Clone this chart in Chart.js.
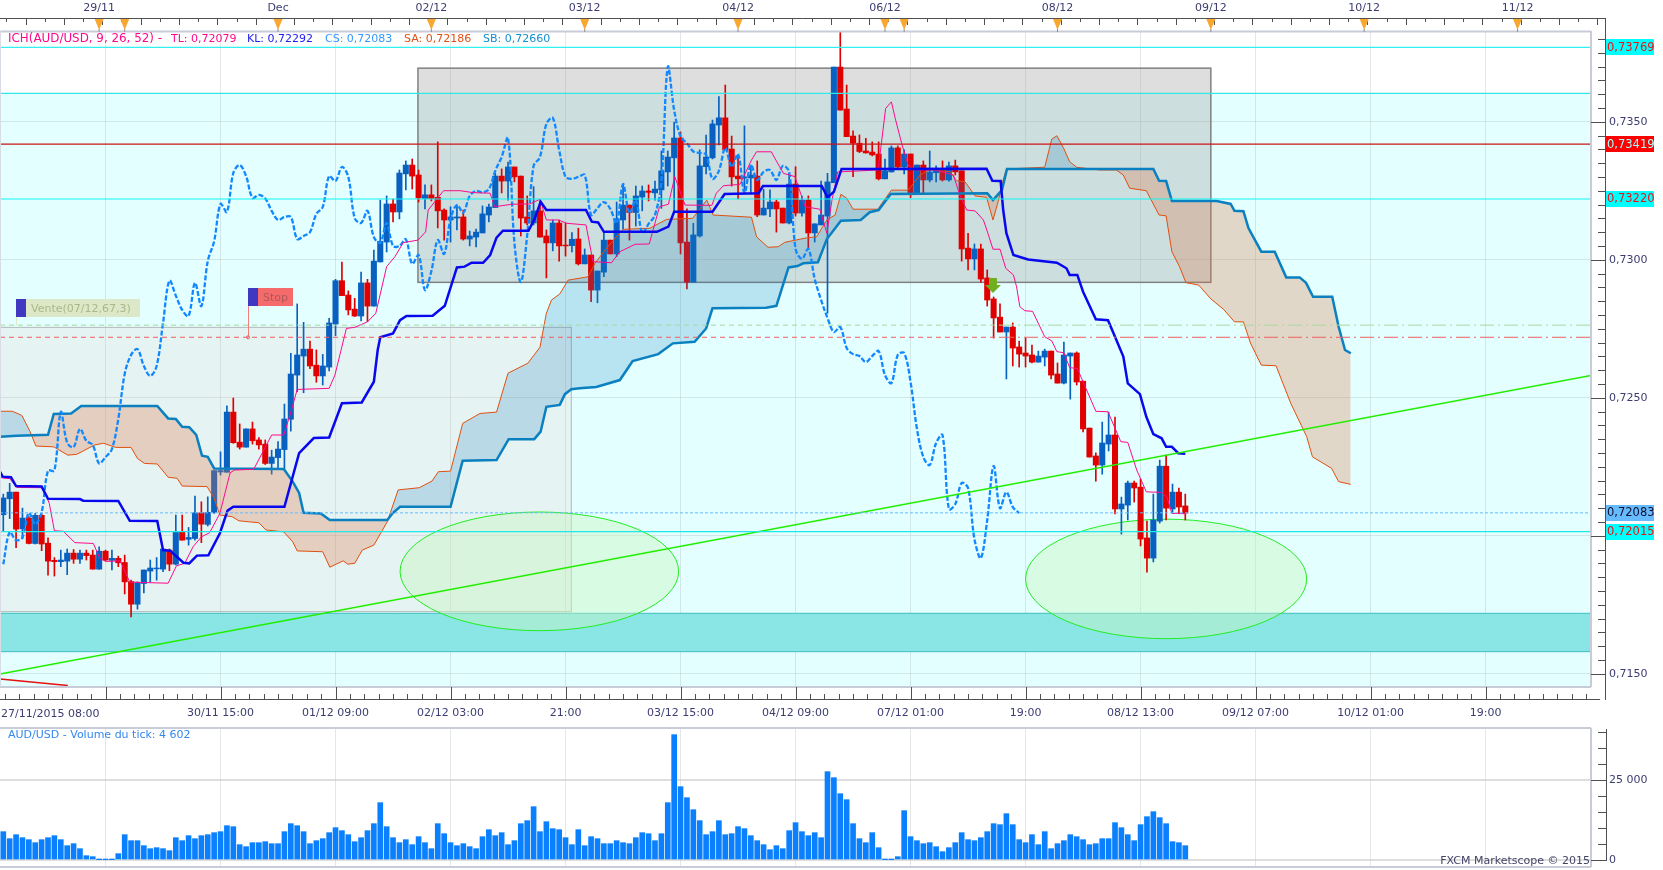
<!DOCTYPE html>
<html>
<head>
<meta charset="utf-8">
<title>AUD/USD</title>
<script src="https://cdn.jsdelivr.net/npm/chart.js@4/dist/chart.umd.js"></script>
<style>
html,body{margin:0;padding:0;background:#fff;overflow:hidden}
canvas{position:absolute;left:0}
#prix{top:0}
#volume{top:727px}
</style>
</head>
<body>
<canvas id="prix" width="1663" height="727"></canvas>
<canvas id="volume" width="1663" height="143"></canvas>
<script>
// bougies H1, une valeur par heure
const opens = [0.72076,0.72134,0.72158,0.72025,0.72064,0.71972,0.72074,0.71973,0.71911,0.71906,0.71908,0.71937,0.71915,0.71937,0.71930,0.71879,0.71944,0.71911,0.71918,0.71903,0.71834,0.71752,0.71827,0.71872,0.71880,0.71879,0.71948,0.71897,0.72013,0.71987,0.71990,0.72083,0.72041,0.72085,0.72231,0.72230,0.72448,0.72339,0.72321,0.72387,0.72347,0.72332,0.72262,0.72283,0.72312,0.72422,0.72582,0.72651,0.72676,0.72618,0.72579,0.72611,0.72767,0.72924,0.72872,0.72821,0.72796,0.72916,0.72832,0.72992,0.73064,0.73202,0.73173,0.73311,0.73343,0.73307,0.73222,0.73235,0.73226,0.73180,0.73144,0.73151,0.73155,0.73075,0.73082,0.73097,0.73162,0.73189,0.73303,0.73285,0.73336,0.73303,0.73155,0.73133,0.73177,0.73086,0.73061,0.73133,0.73053,0.73051,0.73075,0.72985,0.73017,0.72890,0.72955,0.73071,0.73021,0.73144,0.73198,0.73171,0.73227,0.73249,0.73242,0.73253,0.73318,0.73369,0.73441,0.73064,0.72919,0.73086,0.73337,0.73369,0.73488,0.73514,0.73401,0.73303,0.73296,0.73296,0.73303,0.73162,0.73184,0.73209,0.73187,0.73133,0.73274,0.73169,0.73216,0.73097,0.73126,0.73158,0.73279,0.73698,0.73546,0.73448,0.73422,0.73394,0.73390,0.73383,0.73293,0.73318,0.73405,0.73336,0.73383,0.73242,0.73343,0.73289,0.73315,0.73325,0.73289,0.73340,0.73322,0.73042,0.73003,0.73039,0.72934,0.72858,0.72792,0.72738,0.72756,0.72684,0.72662,0.72655,0.72629,0.72647,0.72669,0.72586,0.72553,0.72651,0.72662,0.72560,0.72390,0.72289,0.72256,0.72332,0.72365,0.72097,0.72111,0.72191,0.72176,0.71992,0.71919,0.72053,0.72252,0.72097,0.72158,0.72108];
const highs = [0.72151,0.72190,0.72158,0.72100,0.72069,0.72081,0.72079,0.71992,0.71921,0.71948,0.71952,0.71950,0.71948,0.71948,0.71948,0.71960,0.71948,0.71948,0.71926,0.71930,0.71839,0.71833,0.71876,0.71912,0.71921,0.71952,0.71952,0.72075,0.72075,0.72030,0.72144,0.72123,0.72141,0.72236,0.72304,0.72471,0.72499,0.72405,0.72387,0.72412,0.72356,0.72347,0.72310,0.72341,0.72477,0.72661,0.72840,0.72773,0.72705,0.72673,0.72657,0.72788,0.72929,0.72991,0.72887,0.72860,0.72955,0.72929,0.73035,0.73216,0.73231,0.73220,0.73325,0.73358,0.73365,0.73325,0.73271,0.73271,0.73427,0.73184,0.73192,0.73198,0.73180,0.73104,0.73111,0.73195,0.73202,0.73313,0.73329,0.73354,0.73336,0.73303,0.73231,0.73265,0.73213,0.73108,0.73144,0.73144,0.73133,0.73098,0.73114,0.73039,0.73017,0.72959,0.73096,0.73071,0.73209,0.73274,0.73198,0.73267,0.73267,0.73271,0.73285,0.73394,0.73394,0.73499,0.73463,0.73184,0.73132,0.73398,0.73452,0.73506,0.73591,0.73633,0.73448,0.73380,0.73485,0.73343,0.73358,0.73255,0.73253,0.73216,0.73187,0.73313,0.73337,0.73231,0.73231,0.73130,0.73285,0.73313,0.73698,0.73829,0.73633,0.73467,0.73452,0.73440,0.73427,0.73427,0.73365,0.73412,0.73412,0.73398,0.73383,0.73343,0.73358,0.73394,0.73340,0.73358,0.73354,0.73361,0.73322,0.73096,0.73057,0.73057,0.72963,0.72865,0.72840,0.72756,0.72771,0.72705,0.72716,0.72691,0.72669,0.72676,0.72669,0.72626,0.72702,0.72662,0.72666,0.72560,0.72390,0.72300,0.72412,0.72448,0.72430,0.72140,0.72198,0.72198,0.72205,0.72053,0.72151,0.72274,0.72292,0.72187,0.72173,0.72151];
const lows = [0.72018,0.72062,0.71957,0.71990,0.71970,0.71970,0.71946,0.71857,0.71854,0.71888,0.71859,0.71900,0.71900,0.71912,0.71879,0.71879,0.71908,0.71876,0.71888,0.71789,0.71706,0.71734,0.71793,0.71833,0.71839,0.71870,0.71873,0.71894,0.71984,0.71966,0.71984,0.71975,0.72035,0.72081,0.72220,0.72230,0.72335,0.72314,0.72321,0.72332,0.72314,0.72258,0.72223,0.72244,0.72236,0.72379,0.72522,0.72518,0.72605,0.72556,0.72546,0.72597,0.72725,0.72870,0.72800,0.72794,0.72778,0.72776,0.72832,0.72992,0.73028,0.73137,0.73148,0.73253,0.73256,0.73209,0.73184,0.73213,0.73115,0.73071,0.73064,0.73108,0.73071,0.73050,0.73046,0.73097,0.73137,0.73189,0.73242,0.73216,0.73282,0.73086,0.73126,0.73126,0.73082,0.72934,0.73032,0.72995,0.73013,0.73028,0.72981,0.72985,0.72848,0.72844,0.72939,0.73021,0.73011,0.73111,0.73071,0.73122,0.73177,0.73213,0.73216,0.73186,0.73267,0.73174,0.73021,0.72894,0.72919,0.73082,0.73311,0.73365,0.73416,0.73398,0.73267,0.73220,0.73241,0.73238,0.73156,0.73162,0.73156,0.73100,0.73133,0.73130,0.73158,0.73158,0.73039,0.73064,0.73126,0.72806,0.73279,0.73542,0.73446,0.73301,0.73388,0.73386,0.73376,0.73289,0.73293,0.73318,0.73332,0.73311,0.73225,0.73242,0.73242,0.73282,0.73282,0.73285,0.73285,0.73307,0.72995,0.72963,0.72963,0.72919,0.72832,0.72716,0.72738,0.72568,0.72615,0.72611,0.72611,0.72626,0.72629,0.72615,0.72568,0.72553,0.72550,0.72495,0.72546,0.72376,0.72285,0.72198,0.72223,0.72307,0.72079,0.72006,0.72057,0.72122,0.71963,0.71868,0.71905,0.72046,0.72057,0.72082,0.72082,0.72057];
const closes = [0.72137,0.72158,0.72024,0.72064,0.71972,0.72074,0.71970,0.71908,0.71906,0.71912,0.71937,0.71915,0.71937,0.71928,0.71879,0.71944,0.71912,0.71918,0.71902,0.71833,0.71752,0.71830,0.71876,0.71883,0.71883,0.71952,0.71897,0.72013,0.71984,0.71994,0.72083,0.72042,0.72085,0.72236,0.72236,0.72448,0.72337,0.72321,0.72387,0.72344,0.72329,0.72262,0.72285,0.72314,0.72423,0.72586,0.72655,0.72676,0.72615,0.72579,0.72615,0.72771,0.72924,0.72870,0.72818,0.72796,0.72916,0.72832,0.72995,0.73067,0.73202,0.73173,0.73314,0.73343,0.73303,0.73224,0.73235,0.73222,0.73177,0.73144,0.73155,0.73155,0.73075,0.73086,0.73100,0.73166,0.73191,0.73303,0.73285,0.73336,0.73300,0.73151,0.73133,0.73177,0.73082,0.73061,0.73133,0.73050,0.73050,0.73074,0.72985,0.73017,0.72890,0.72959,0.73071,0.73021,0.73148,0.73198,0.73171,0.73231,0.73249,0.73244,0.73256,0.73322,0.73372,0.73441,0.73061,0.72919,0.73090,0.73340,0.73372,0.73492,0.73514,0.73398,0.73300,0.73293,0.73300,0.73307,0.73162,0.73187,0.73209,0.73184,0.73133,0.73274,0.73169,0.73216,0.73097,0.73130,0.73162,0.73282,0.73698,0.73542,0.73446,0.73422,0.73392,0.73387,0.73380,0.73293,0.73322,0.73405,0.73336,0.73383,0.73242,0.73343,0.73289,0.73318,0.73325,0.73289,0.73340,0.73318,0.73039,0.73003,0.73039,0.72930,0.72854,0.72789,0.72738,0.72756,0.72680,0.72658,0.72651,0.72629,0.72651,0.72669,0.72582,0.72553,0.72655,0.72662,0.72557,0.72387,0.72285,0.72256,0.72336,0.72365,0.72097,0.72115,0.72191,0.72173,0.71988,0.71919,0.72057,0.72252,0.72100,0.72158,0.72104,0.72082];

// chikou : une valeur par heure a partir de la premiere bougie
const chikou = [0.71897,0.72013,0.71984,0.71994,0.72083,0.72042,0.72085,0.72236,0.72236,0.72448,0.72337,0.72321,0.72387,0.72344,0.72329,0.72262,0.72285,0.72314,0.72423,0.72586,0.72655,0.72676,0.72615,0.72579,0.72615,0.72771,0.72924,0.72870,0.72818,0.72796,0.72916,0.72832,0.72995,0.73067,0.73202,0.73173,0.73314,0.73343,0.73303,0.73224,0.73235,0.73222,0.73177,0.73144,0.73155,0.73155,0.73075,0.73086,0.73100,0.73166,0.73191,0.73303,0.73285,0.73336,0.73300,0.73151,0.73133,0.73177,0.73082,0.73061,0.73133,0.73050,0.73050,0.73074,0.72985,0.73017,0.72890,0.72959,0.73071,0.73021,0.73148,0.73198,0.73171,0.73231,0.73249,0.73244,0.73256,0.73322,0.73372,0.73441,0.73061,0.72919,0.73090,0.73340,0.73372,0.73492,0.73514,0.73398,0.73300,0.73293,0.73300,0.73307,0.73162,0.73187,0.73209,0.73184,0.73133,0.73274,0.73169,0.73216,0.73097,0.73130,0.73162,0.73282,0.73698,0.73542,0.73446,0.73422,0.73392,0.73387,0.73380,0.73293,0.73322,0.73405,0.73336,0.73383,0.73242,0.73343,0.73289,0.73318,0.73325,0.73289,0.73340,0.73318,0.73039,0.73003,0.73039,0.72930,0.72854,0.72789,0.72738,0.72756,0.72680,0.72658,0.72651,0.72629,0.72651,0.72669,0.72582,0.72553,0.72655,0.72662,0.72557,0.72387,0.72285,0.72256,0.72336,0.72365,0.72097,0.72115,0.72191,0.72173,0.71988,0.71919,0.72057,0.72252,0.72100,0.72158,0.72104,0.72082];

// ichimoku : sommets (heure, prix)
const tenkanH = [-0.5,-0.1,1,2.1,6.2,7.2,8,9.4,11.2,14.1,15.1,16.1,18.3,19.8,25.8,27.1,28.4,29.7,31,32.3,33.9,35.5,36.2,39.2,42,43.9,45.1,46,51,51.9,53.7,55,57,58.3,60,61.3,62.6,64.9,66.1,66.5,68.9,71.5,73.6,76.2,76.9,79.6,82.4,84,85,86.9,88.2,91.2,92.3,95.2,96.5,98.9,101.1,102.7,104.1,105.1,106.7,110.9,111.6,112.7,115.3,117.1,117.9,120.2,121.5,122.1,123.9,125.5,127.8,128.9,129.7,130.6,136.9,137.5,138.1,139,139.6,140.6,141.6,142.7,145.8,148.7,149.8,150.8,152.1,153.4,154.1,154.9,156,156.9,158.1,158.6,159.1,159.9,161.1,163,164.1,164.9,166,166.9,168.1,171,172.9,174.9,176,177.4,178.9,181.3,182.1,182.9,185];
const tenkanP = [0.72214,0.72209,0.72207,0.72175,0.72174,0.72117,0.72018,0.72016,0.71975,0.71972,0.71918,0.71907,0.71909,0.71832,0.71828,0.71891,0.71900,0.71960,0.71996,0.72011,0.72081,0.72228,0.72238,0.72241,0.72365,0.72365,0.72455,0.72530,0.72534,0.72582,0.72751,0.72755,0.72775,0.72806,0.72975,0.73011,0.73062,0.73071,0.73101,0.73180,0.73250,0.73250,0.73243,0.73241,0.73192,0.73201,0.73202,0.73219,0.73144,0.73144,0.73132,0.73126,0.72993,0.72989,0.73029,0.73056,0.73057,0.73192,0.73201,0.73301,0.73198,0.73197,0.73241,0.73268,0.73273,0.73361,0.73391,0.73391,0.73337,0.73313,0.73301,0.73192,0.73183,0.73096,0.73216,0.73318,0.73325,0.73434,0.73548,0.73572,0.73512,0.73422,0.73343,0.73325,0.73325,0.73307,0.73228,0.73180,0.73177,0.73144,0.73096,0.73038,0.73038,0.72969,0.72945,0.72901,0.72830,0.72815,0.72813,0.72721,0.72706,0.72667,0.72663,0.72609,0.72606,0.72451,0.72449,0.72341,0.72338,0.72238,0.72159,0.72157,0.72141,0.72081,0.72080];
const kijunH = [-0.5,-0.1,1.2,2,6,7,12,12.5,18,19.8,24.1,25,26.1,28.2,29.1,30.3,32.1,33.9,35.1,36,44,46.3,48.6,51,53,56.1,58,58.6,59,61,62.1,63.1,67.2,69.1,71,72.2,73.3,75.1,76.2,77.2,78.2,82.2,83.2,84.1,85,91.2,92.1,93.1,94,102.3,104.1,105,111,112.9,118.2,118.9,128.1,129,130,131.2,153.9,154.8,156.1,156.5,157,158.1,160.4,164.9,166.4,166.9,168.1,169,171,172.9,174,175.3,176,177.9,178.9,180,181.3,182,182.9,183.9,185];
const kijunP = [0.72232,0.72214,0.72212,0.72180,0.72178,0.72134,0.72133,0.72127,0.72126,0.72054,0.72053,0.71948,0.71946,0.71902,0.71900,0.71928,0.71929,0.72009,0.72091,0.72105,0.72105,0.72299,0.72354,0.72356,0.72480,0.72483,0.72558,0.72673,0.72719,0.72733,0.72781,0.72796,0.72797,0.72833,0.72972,0.72975,0.72989,0.72989,0.73017,0.73080,0.73105,0.73105,0.73150,0.73210,0.73180,0.73180,0.73138,0.73135,0.73101,0.73101,0.73120,0.73174,0.73174,0.73238,0.73241,0.73267,0.73267,0.73226,0.73246,0.73329,0.73330,0.73286,0.73285,0.73180,0.73096,0.73017,0.73001,0.72989,0.72969,0.72945,0.72945,0.72884,0.72784,0.72781,0.72721,0.72649,0.72552,0.72513,0.72431,0.72368,0.72353,0.72322,0.72322,0.72299,0.72297];
const senkouAH = [-0.5,1.4,2.9,4.2,5.1,7.9,10.1,11.5,14.3,15.7,17.6,20,21,22.1,24.1,25.8,27.2,28,31.9,33,33.9,35.8,36.9,40,41.1,43.9,45.3,46,50,51.1,53.2,53.9,55,56.2,58,60.1,61.8,65.1,67.1,68.1,70,71.9,74.6,77.2,79,82.1,84,84.5,85,85.8,87.1,88.4,91.5,92.6,94.6,97,101.2,103.8,107.9,110.1,111.1,117.1,117.9,119.7,121.3,122.3,125.7,127.3,128.9,130.2,131.1,132,133,136.9,137.5,139,141.6,143.5,145,148.2,149.2,150.5,152.1,153.9,154.9,155.7,156.5,157,163,164.1,164.9,165.9,166.9,168,171.6,174.2,175.3,176.3,178.9,180.9,182,182.9,184.1,185.1,187.1,189,191,192.7,194.1,195.2,196.9,199.2,201.5,204,204.9,207.9,209,210.9];
const senkouAP = [0.72451,0.72451,0.72436,0.72377,0.72325,0.72322,0.72292,0.72295,0.72329,0.72335,0.72320,0.72320,0.72280,0.72262,0.72260,0.72212,0.72208,0.72180,0.72178,0.72135,0.72075,0.72069,0.72054,0.72047,0.72021,0.72014,0.71978,0.71945,0.71942,0.71886,0.71909,0.71897,0.71900,0.71948,0.71966,0.72051,0.72166,0.72174,0.72198,0.72232,0.72234,0.72407,0.72443,0.72448,0.72589,0.72625,0.72683,0.72745,0.72806,0.72854,0.72876,0.72926,0.72938,0.72987,0.73047,0.73110,0.73114,0.73146,0.73150,0.73216,0.73162,0.73154,0.73083,0.73045,0.73047,0.73063,0.73079,0.73083,0.73144,0.73162,0.73237,0.73223,0.73183,0.73183,0.73204,0.73252,0.73252,0.73307,0.73327,0.73319,0.73286,0.73283,0.73231,0.73226,0.73144,0.73210,0.73289,0.73329,0.73335,0.73437,0.73449,0.73407,0.73355,0.73335,0.73325,0.73325,0.73307,0.73259,0.73250,0.73162,0.73159,0.73029,0.72975,0.72917,0.72908,0.72858,0.72820,0.72775,0.72775,0.72698,0.72618,0.72616,0.72480,0.72359,0.72286,0.72244,0.72196,0.72186];
const senkouBH = [-0.5,2.1,7,7.9,10.6,12.2,24.1,25.8,27,28,29.1,30.2,31.1,32,33,43.9,45.3,46.3,47,49.7,51.1,60.1,61,62.1,70,71.9,77.2,79.1,83.1,84.1,85,87.1,87.9,88.9,90.2,92.8,96.5,98.5,102.5,104.8,108.2,110,111,119.4,121,122.9,124.3,125.2,127.5,128.9,131.1,134.2,135.6,137,138.9,154,154.9,156.3,157.1,180,180.9,182,182.9,189.9,192.1,192.7,194.1,194.9,196.9,199,200.8,202.9,203.9,205,208,209,210,210.9];
const senkouBP = [0.72359,0.72362,0.72366,0.72441,0.72443,0.72470,0.72470,0.72425,0.72423,0.72395,0.72393,0.72365,0.72290,0.72286,0.72244,0.72242,0.72196,0.72155,0.72083,0.72081,0.72057,0.72057,0.72083,0.72105,0.72105,0.72272,0.72274,0.72350,0.72350,0.72377,0.72467,0.72474,0.72513,0.72531,0.72534,0.72539,0.72564,0.72633,0.72658,0.72697,0.72703,0.72751,0.72824,0.72826,0.72833,0.72972,0.72977,0.72987,0.72991,0.73075,0.73141,0.73144,0.73172,0.73180,0.73238,0.73241,0.73216,0.73252,0.73329,0.73329,0.73286,0.73285,0.73213,0.73213,0.73202,0.73177,0.73176,0.73114,0.73029,0.73029,0.72936,0.72936,0.72916,0.72866,0.72866,0.72757,0.72673,0.72661];

// droites tracees a la main
const trendH = [-0.5,248.5];
const trendP = [0.71499,0.72581];
const oldTrendH = [-0.5,10.1];
const oldTrendP = [0.71481,0.71457];

// volume du tick, une barre par bougie
const volumes = [8854,6667,7917,6979,6354,5417,6354,6979,7604,6354,4479,5104,3542,1354,1042,104,104,104,1979,7917,6042,6042,4479,3542,3854,3542,2917,6979,6042,7604,6667,7604,7917,8542,8854,10729,10417,4792,4167,5417,5417,5729,5104,5104,8854,11354,10729,8854,5104,6042,6667,8542,10104,9167,7917,5729,6979,9167,11354,17917,10417,6979,5417,6354,4792,7292,5417,3542,11354,8229,5417,4479,5104,4167,3542,7292,9479,7604,8542,4792,6042,11354,12292,16667,8854,11979,9792,9479,6979,4792,9479,4479,7292,6667,5104,5104,6042,5417,5104,6979,8542,8229,6042,8229,17917,39167,22917,19479,15729,12292,7917,8854,12292,7917,8229,10417,9792,7604,6042,4792,3229,4479,3542,9167,11667,8854,7604,8542,6979,27604,25729,20729,18854,11354,6667,5417,8542,3854,104,104,1042,15417,7292,6042,5104,5417,4167,2604,3854,5417,8542,6354,6042,6979,8854,11354,11042,14479,11042,6354,5417,7917,4792,8854,3542,5104,6042,7917,7292,6354,4792,5104,6667,6667,11667,10104,7917,6042,11042,13542,15104,13229,11354,5729,5417,4479];

// axes
const gridHours = [16,34,52,70,88,106,124,142,160,178,196,214,232];
const gridLabels = ['','30/11 15:00','01/12 09:00','02/12 03:00','21:00','03/12 15:00','04/12 09:00','07/12 01:00','19:00','08/12 13:00','09/12 07:00','10/12 01:00','19:00'];
const topHours = [15,43,67,91,115,138,165,189,213,237];
const topLabels = ['29/11','Dec','02/12','03/12','04/12','06/12','08/12','09/12','10/12','11/12'];
const markerHours = [15,19,43,67,91,115,138,141,165,189,213,237];
const priceTicks = [0.7150,0.7200,0.7250,0.7300,0.7350];
const volumeTicks = [0,25000];

const minHour = -0.516;
const maxHour = 248.5;
const minPrice = 0.71452;
const maxPrice = 0.73825;
const FONT = '11px "DejaVu Sans"';
const TEXT = '#3c3c72';
const GRID = 'rgba(170,180,180,0.32)';

const points = (xs, ys) => xs.map((x, i) => ({x: x, y: ys[i]}));
const candleColor = opens.map((o, i) => closes[i] >= o ? '#0860c0' : '#e00000');

const hline = (ctx, c, price, color, width, dash, from, to) => {
    const y = c.scales.y.getPixelForValue(price);
    ctx.save();
    ctx.strokeStyle = color;
    ctx.lineWidth = width;
    ctx.setLineDash(dash || []);
    ctx.beginPath();
    ctx.moveTo(from === undefined ? 0 : c.scales.x.getPixelForValue(from), y);
    ctx.lineTo(to === undefined ? c.chartArea.right : c.scales.x.getPixelForValue(to), y);
    ctx.stroke();
    ctx.restore();
};

const box = (ctx, c, h1, h2, p1, p2, fill, border, width) => {
    const x1 = c.scales.x.getPixelForValue(h1), x2 = c.scales.x.getPixelForValue(h2);
    const y1 = c.scales.y.getPixelForValue(p1), y2 = c.scales.y.getPixelForValue(p2);
    ctx.fillStyle = fill;
    ctx.fillRect(x1, y1, x2 - x1, y2 - y1);
    ctx.strokeStyle = border;
    ctx.lineWidth = width;
    ctx.strokeRect(x1, y1, x2 - x1, y2 - y1);
};

const ellipse = (ctx, c, h1, h2, p1, p2) => {
    const x1 = c.scales.x.getPixelForValue(h1), x2 = c.scales.x.getPixelForValue(h2);
    const y1 = c.scales.y.getPixelForValue(p1), y2 = c.scales.y.getPixelForValue(p2);
    ctx.beginPath();
    ctx.ellipse((x1 + x2) / 2, (y1 + y2) / 2, (x2 - x1) / 2, (y2 - y1) / 2, 0, 0, Math.PI * 2);
    ctx.fillStyle = 'rgba(200,245,190,0.42)';
    ctx.fill();
    ctx.strokeStyle = '#22ee22';
    ctx.lineWidth = 1;
    ctx.stroke();
};

const seg = (ctx, x1, y1, x2, y2, color, width) => {
    ctx.strokeStyle = color;
    ctx.lineWidth = width || 1;
    ctx.beginPath();
    ctx.moveTo(x1, y1);
    ctx.lineTo(x2, y2);
    ctx.stroke();
};

// petit drapeau d'ordre, ancre sur une heure et un prix
const flag = (ctx, c, hour, price, w, text, bg, fg, pole, top, bottom) => {
    const x = Math.round(c.scales.x.getPixelForValue(hour));
    const y = c.scales.y.getPixelForValue(price);
    seg(ctx, x + 0.5, bottom, x + 0.5, y, pole, 1);
    ctx.fillStyle = bg;
    ctx.fillRect(x, top, w, bottom - top);
    ctx.fillStyle = '#4038c0';
    ctx.fillRect(x, top, 10, bottom - top);
    ctx.fillStyle = fg;
    ctx.font = FONT;
    ctx.textAlign = 'left';
    ctx.textBaseline = 'middle';
    ctx.fillText(text, x + 15, (top + bottom) / 2 + 1);
};

const decorPrix = {
    id: 'decorPrix',
    beforeDraw(c) {
        const ctx = c.ctx, a = c.chartArea, yS = c.scales.y;
        ctx.save();
        ctx.fillStyle = '#fff';
        ctx.fillRect(0, 0, c.width, c.height);
        const zone = yS.getPixelForValue(0.73603);
        ctx.fillStyle = '#e3ffff';
        ctx.fillRect(a.left, zone, a.right - a.left, a.bottom - zone);
        ctx.restore();
    },
    beforeDatasetsDraw(c) {
        const ctx = c.ctx;
        ctx.save();
        box(ctx, c, -1, 88.9, 0.72755, 0.71725, 'rgba(248,171,171,0.14)', '#b4b8b8', 1);
        const yA = c.scales.y.getPixelForValue(0.71719), yB = c.scales.y.getPixelForValue(0.71580);
        ctx.fillStyle = '#8ae5e5';
        ctx.fillRect(0, yA, c.chartArea.right, yB - yA);
        seg(ctx, 0, yA, c.chartArea.right, yA, '#40bcc0', 1);
        seg(ctx, 0, yB, c.chartArea.right, yB, '#40bcc0', 1);
        ellipse(ctx, c, 62.1, 105.7, 0.72086, 0.71656);
        ellipse(ctx, c, 160, 204, 0.72060, 0.71627);
        box(ctx, c, 64.9, 189, 0.73694, 0.72918, 'rgba(163,163,163,0.36)', '#808080', 1.5);
        ctx.restore();
    },
    afterDatasetsDraw(c) {
        const ctx = c.ctx;
        ctx.save();
        hline(ctx, c, 0.73769, '#30f0f0', 1.2);
        hline(ctx, c, 0.73603, '#30e8e8', 1.2);
        hline(ctx, c, 0.73220, '#10f4f4', 1.2);
        hline(ctx, c, 0.73419, '#cc1414', 1.2);
        hline(ctx, c, 0.72015, '#20e8e8', 1.2);
        hline(ctx, c, 0.72083, '#66bbff', 1, [3, 2]);
        hline(ctx, c, 0.72763, '#a8d8a0', 1, [5, 4], undefined, 156);
        hline(ctx, c, 0.72763, '#a8d8a0', 1, [14, 4, 2, 4], 156);
        hline(ctx, c, 0.72719, '#f06060', 1, [5, 4], undefined, 156);
        hline(ctx, c, 0.72719, '#f06060', 1, [14, 4, 2, 4], 156);

        // fleche de vente
        const ax = c.scales.x.getPixelForValue(154.9), ay = c.scales.y.getPixelForValue(0.72934);
        ctx.fillStyle = '#70b020';
        ctx.beginPath();
        ctx.moveTo(ax - 4, ay);
        ctx.lineTo(ax + 4, ay);
        ctx.lineTo(ax + 4, ay + 7);
        ctx.lineTo(ax + 8, ay + 7);
        ctx.lineTo(ax, ay + 15);
        ctx.lineTo(ax - 8, ay + 7);
        ctx.lineTo(ax - 4, ay + 7);
        ctx.closePath();
        ctx.fill();

        flag(ctx, c, 2, 0.72763, 124, 'Vente(07/12,67,3)', '#dde8c8', '#a8b888', '#dde8c8', 299, 317);
        flag(ctx, c, 38.3, 0.72719, 45, 'Stop', '#f56b6b', '#b05858', '#f08080', 288, 306);
        const sx = c.scales.x.getPixelForValue(38.3), sy = c.scales.y.getPixelForValue(0.72719);
        ctx.strokeStyle = '#f06060';
        ctx.beginPath();
        ctx.arc(sx, sy, 1.5, 0, Math.PI * 2);
        ctx.stroke();
        ctx.restore();
    },
    afterDraw(c) {
        const ctx = c.ctx, a = c.chartArea, xS = c.scales.x, yS = c.scales.y;
        ctx.save();

        // cadres du panneau
        seg(ctx, 0, 31.5, a.right, 31.5, '#c8ccd8', 2);
        seg(ctx, 0, a.bottom, a.right, a.bottom, '#c8ccd8', 2);
        seg(ctx, a.right, 31, a.right, a.bottom, '#c8ccd8', 2);
        seg(ctx, 0.5, 31, 0.5, a.bottom, '#d8dce4', 1);

        // axe du haut
        seg(ctx, 0, 18.5, 1605.5, 18.5, '#505050', 1);
        for (let h = 0.5, n = 0; xS.getPixelForValue(h) < 1600; h += 3, n++) {
            const x = Math.round(xS.getPixelForValue(h)) + 0.5;
            seg(ctx, x, 18, x, n % 2 ? 25 : 22, '#505050', 1);
        }
        markerHours.forEach(h => {
            const x = xS.getPixelForValue(h);
            ctx.fillStyle = '#f8a830';
            ctx.beginPath();
            ctx.moveTo(x - 4.5, 19);
            ctx.lineTo(x + 4.5, 19);
            ctx.lineTo(x, 30);
            ctx.closePath();
            ctx.fill();
            seg(ctx, x, 29, x, 32, '#909090', 1);
        });

        // axe du bas
        seg(ctx, 0, 699.5, 1600, 699.5, '#505050', 1);
        for (let h = 16 - 2.25 * 8; xS.getPixelForValue(h) < 1600; h += 2.25) {
            const x = Math.round(xS.getPixelForValue(h)) + 0.5;
            const major = (h - 16) % 18 === 0;
            seg(ctx, x, major ? a.bottom : 694, x, 699, '#505050', 1);
        }

        // axe des prix
        seg(ctx, 1605.5, 18, 1605.5, 700, '#505050', 1);
        for (let p = 0.7150; p < 0.7382; p += 0.0005) {
            const y = Math.round(yS.getPixelForValue(p)) + 0.5;
            const major = Math.round(p * 10000) % 50 === 0;
            seg(ctx, major ? a.right : 1598, y, 1605, y, '#505050', 1);
        }

        // niveaux affiches sur l'axe
        const levels = [[0.73769, '#00ffff', '#f01010'], [0.73419, '#ff0000', '#a0ffff'], [0.73220, '#00ffff', '#f01010'], [0.72083, '#66bbff', '#101030'], [0.72015, '#00ffff', '#f01010']];
        ctx.font = '11.5px "DejaVu Sans"';
        ctx.textAlign = 'left';
        ctx.textBaseline = 'middle';
        levels.forEach(l => {
            const y = yS.getPixelForValue(l[0]);
            ctx.fillStyle = l[1];
            ctx.fillRect(1606, Math.round(y) - 8, 48, 16);
            ctx.fillStyle = l[2];
            ctx.fillText(l[0].toFixed(5).replace('.', ','), 1607, y + 0.5);
        });

        // legende de l'indicateur
        const y0 = 39;
        ctx.font = '11.9px "DejaVu Sans"';
        ctx.fillStyle = '#ff0a8c';
        ctx.fillText('ICH(AUD/USD, 9, 26, 52) -', 8, y0);
        ctx.font = FONT;
        ctx.fillText('TL: 0,72079', 171, y0);
        ctx.fillStyle = '#2222ee';
        ctx.fillText('KL: 0,72292', 247, y0);
        ctx.fillStyle = '#3399ff';
        ctx.fillText('CS: 0,72083', 325, y0);
        ctx.fillStyle = '#e05010';
        ctx.fillText('SA: 0,72186', 404, y0);
        ctx.fillStyle = '#1090d0';
        ctx.fillText('SB: 0,72660', 483, y0);

        ctx.fillStyle = TEXT;
        ctx.fillText('27/11/2015 08:00', 1, 714);
        ctx.restore();
    }
};

const decorVolume = {
    id: 'decorVolume',
    beforeDraw(c) {
        c.ctx.fillStyle = '#fff';
        c.ctx.fillRect(0, 0, c.width, c.height);
    },
    afterDraw(c) {
        const ctx = c.ctx, a = c.chartArea, yS = c.scales.y;
        ctx.save();
        seg(ctx, 0, a.top - 1, a.right, a.top - 1, '#c8ccd8', 2);
        seg(ctx, 0, a.bottom, a.right, a.bottom, '#c8ccd8', 2);
        seg(ctx, a.right, a.top - 1, a.right, a.bottom, '#c8ccd8', 2);
        seg(ctx, 1606.5, a.top, 1606.5, yS.getPixelForValue(0) + 1, '#505050', 1);
        for (let v = 0; v <= 40000; v += 5000) {
            const y = Math.round(yS.getPixelForValue(v)) + 0.5;
            seg(ctx, v % 25000 === 0 ? a.right : 1598, y, 1606, y, '#505050', 1);
        }
        ctx.font = FONT;
        ctx.textBaseline = 'middle';
        ctx.textAlign = 'left';
        ctx.fillStyle = '#3388ee';
        ctx.fillText('AUD/USD - Volume du tick: 4 602', 8, 8);
        ctx.textAlign = 'right';
        ctx.fillStyle = '#444466';
        ctx.fillText('FXCM Marketscope \u00a9 2015', 1590, 134);
        ctx.restore();
    }
};

new Chart(document.getElementById('prix'), {
    type: 'line',
    plugins: [decorPrix],
    data: {
        datasets: [
            {
                type: 'bar', order: 10, grouped: false, barThickness: 1,
                data: highs.map((h, i) => ({x: i, y: [lows[i], h]})),
                backgroundColor: candleColor
            },
            {
                type: 'bar', order: 9, grouped: false, barThickness: 5.4,
                data: opens.map((o, i) => ({x: i, y: [o, closes[i]]})),
                backgroundColor: candleColor
            },
            {
                order: 8, data: points(senkouAH, senkouAP), borderColor: '#e05010', borderWidth: 1, pointRadius: 0,
                fill: {target: '+1', above: 'rgba(32,127,186,0.22)', below: 'rgba(223,123,77,0.30)'}
            },
            {order: 7, data: points(senkouBH, senkouBP), borderColor: '#0a80c0', borderWidth: 2.5, pointRadius: 0},
            {order: 6, data: points(chikou.map((v, i) => i), chikou), borderColor: '#1188ff', borderWidth: 2.3, borderDash: [5, 2], pointRadius: 0, tension: 0.35},
            {order: 5, data: points(tenkanH, tenkanP), borderColor: '#ff0a8c', borderWidth: 1, pointRadius: 0},
            {order: 4, data: points(kijunH, kijunP), borderColor: '#0808ee', borderWidth: 2.5, pointRadius: 0},
            {order: 3, data: points(trendH, trendP), borderColor: '#22ee00', borderWidth: 1.5, pointRadius: 0},
            {order: 2, data: points(oldTrendH, oldTrendP), borderColor: '#e81010', borderWidth: 1.5, pointRadius: 0}
        ]
    },
    options: {
        responsive: false,
        animation: false,
        devicePixelRatio: 1,
        layout: {padding: 0},
        plugins: {legend: {display: false}, tooltip: {enabled: false}},
        scales: {
            x: {
                type: 'linear', position: 'bottom', min: minHour, max: maxHour, offset: false,
                afterBuildTicks: s => { s.ticks = gridHours.map(h => ({value: h})); },
                afterFit: s => { s.height = 727 - 687; },
                grid: {color: GRID, drawTicks: false, offset: false},
                border: {display: false},
                ticks: {
                    autoSkip: false, maxRotation: 0, padding: 20, font: {family: 'DejaVu Sans', size: 11}, color: TEXT,
                    callback: v => gridLabels[gridHours.indexOf(v)]
                }
            },
            xTop: {
                type: 'linear', position: 'top', min: minHour, max: maxHour,
                afterBuildTicks: s => { s.ticks = topHours.map(h => ({value: h})); },
                afterFit: s => { s.height = 32; },
                grid: {display: false, drawTicks: false},
                border: {display: false},
                ticks: {
                    autoSkip: false, maxRotation: 0, padding: 17, font: {family: 'DejaVu Sans', size: 11}, color: TEXT,
                    callback: v => topLabels[topHours.indexOf(v)]
                }
            },
            y: {
                position: 'right', min: minPrice, max: maxPrice,
                afterBuildTicks: s => { s.ticks = priceTicks.map(p => ({value: p})); },
                afterFit: s => { s.width = 1663 - 1591; },
                grid: {color: GRID, drawTicks: false},
                border: {display: false},
                ticks: {
                    autoSkip: false, padding: 18, font: {family: 'DejaVu Sans', size: 11}, color: TEXT,
                    callback: v => v.toFixed(4).replace('.', ',')
                }
            }
        }
    }
});

new Chart(document.getElementById('volume'), {
    type: 'bar',
    plugins: [decorVolume],
    data: {
        datasets: [{
            data: volumes.map((v, i) => ({x: i, y: v})),
            backgroundColor: '#0a80ff',
            barThickness: 5,
            grouped: false
        }]
    },
    options: {
        responsive: false,
        animation: false,
        devicePixelRatio: 1,
        layout: {padding: {top: 2}},
        plugins: {legend: {display: false}, tooltip: {enabled: false}},
        scales: {
            x: {
                type: 'linear', min: minHour, max: maxHour, offset: false,
                afterBuildTicks: s => { s.ticks = gridHours.map(h => ({value: h})); },
                afterFit: s => { s.height = 3; s.paddingLeft = 0; s.paddingRight = 0; },
                grid: {color: GRID, drawTicks: false, offset: false},
                border: {display: false},
                ticks: {display: false}
            },
            y: {
                position: 'right', min: -2187, max: 40937,
                afterBuildTicks: s => { s.ticks = volumeTicks.map(v => ({value: v})); },
                afterFit: s => { s.width = 1663 - 1591; s.paddingTop = 0; s.paddingBottom = 0; },
                grid: {color: 'rgba(190,190,190,0.5)', lineWidth: 2, drawTicks: false},
                border: {display: false},
                ticks: {
                    autoSkip: false, padding: 18, font: {family: 'DejaVu Sans', size: 11}, color: TEXT,
                    callback: v => v === 0 ? '0' : '25 000'
                }
            }
        }
    }
});
</script>
</body>
</html>
